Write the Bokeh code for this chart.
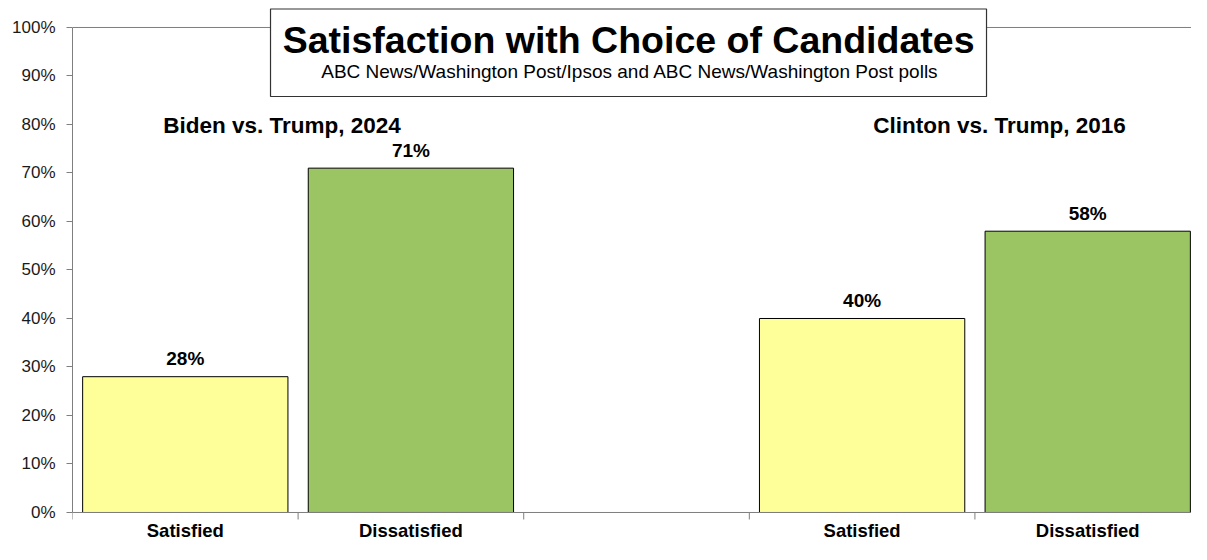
from bokeh.plotting import figure
from bokeh.models import ColumnDataSource, FixedTicker, Span, LabelSet, Range1d
from bokeh.core.properties import value
from bokeh.embed import file_html
from bokeh.resources import INLINE

# ---- data ----
groups = ["Biden vs. Trump, 2024", "Clinton vs. Trump, 2016"]
categories = ["Satisfied", "Dissatisfied"]
values_2024 = [28, 71]
values_2016 = [40, 58]
bar_colors = ["#FFFF99", "#9BC563"]
y_ticks = [0, 10, 20, 30, 40, 50, 60, 70, 80, 90, 100]
title_text = "Satisfaction with Choice of Candidates"
subtitle_text = "ABC News/Washington  Post/Ipsos  and ABC News/Washington  Post polls"

FONT = "Liberation Sans"
GRAY = "#7f7f7f"

# slot layout: group 0 -> slots 0,1 ; empty slot 2 ; group 1 -> slots 3,4
slots_per_group = 3
xs, tops, fills, labels, cats = [], [], [], [], []
for g, vals in enumerate([values_2024, values_2016]):
    for i, v in enumerate(vals):
        xs.append(g * slots_per_group + i + 0.5)
        tops.append(v)
        fills.append(bar_colors[i])
        labels.append(f"{v}%")
        cats.append(categories[i])
n_slots = slots_per_group + len(categories)

src = ColumnDataSource(dict(x=xs, top=tops, fill=fills, label=labels, cat=cats))

p = figure(width=1191, height=544, output_backend="svg", toolbar_location=None,
           x_range=Range1d(0, 4.96), y_range=Range1d(-6.598, 105.567),
           x_axis_location=None, min_border_left=72, min_border_right=0,
           min_border_top=0, min_border_bottom=0)
p.outline_line_color = None
p.grid.grid_line_color = None
p.background_fill_color = "white"

# top line at 100% and baseline at 0%
p.add_layout(Span(location=100, dimension="width", line_color=GRAY,
                  line_width=1, level="underlay"))
p.add_layout(Span(location=0, dimension="width", line_color=GRAY, line_width=1))

# y axis
ya = p.yaxis[0]
ya.bounds = (0, 100)
ya.ticker = FixedTicker(ticks=y_ticks, minor_ticks=[])
ya.major_label_overrides = {t: f"{t}%" for t in y_ticks}
ya.axis_line_color = GRAY
ya.major_tick_line_color = GRAY
ya.major_tick_in = 0
ya.major_tick_out = 6
ya.minor_tick_line_color = None
ya.major_label_standoff = 11
ya.major_label_text_font = FONT
ya.major_label_text_font_size = "17px"
ya.major_label_text_color = "#1a1a1a"

# boundary ticks on the category baseline
bounds = list(range(n_slots + 1))
p.segment(x0=bounds, y0=[0] * len(bounds), x1=bounds, y1=[-1.443] * len(bounds),
          line_color=GRAY, line_width=1)

# bars
p.vbar(x="x", top="top", bottom=0, width=0.91, source=src,
       fill_color="fill", line_color="black", line_width=1)

# value labels
p.add_layout(LabelSet(x="x", y="top", text="label", source=src, y_offset=11.5,
                      text_align="center", text_baseline="alphabetic",
                      text_font=value(FONT), text_font_style="bold",
                      text_font_size="19px", text_color="black"))

# category labels under the baseline
p.text(x="x", y=-3.711, text="cat", source=src, text_align="center",
       text_baseline="middle", text_font=value(FONT), text_font_style="bold",
       text_font_size="18.5px", text_color="black")

# group labels
p.text(x=[0.9286, 4.109], y=[79.79, 79.79], text=groups, text_align="center",
       text_baseline="middle", text_font=value(FONT), text_font_style="bold",
       text_font_size="22.5px", text_color="black")

# title box
p.quad(left=[0.8777], right=[4.0514], bottom=[85.77], top=[103.81],
       fill_color="white", line_color="#333333", line_width=1.2)
p.text(x=[2.465], y=[97.32], text=[title_text], text_align="center",
       text_baseline="middle", text_font=value(FONT), text_font_style="bold",
       text_font_size="37.5px", text_color="black")
p.text(x=[2.506], y=[90.87], text=[subtitle_text], text_align="center",
       text_baseline="middle", text_font=value(FONT),
       text_font_size="19px", text_color="black")

open("out.html", "w").write(file_html(p, INLINE))
